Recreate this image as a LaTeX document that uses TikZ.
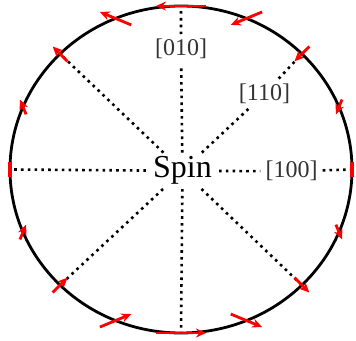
\documentclass[tikz,border=0pt]{standalone}
\usepackage{fontspec}
\setmainfont{Liberation Serif}
\usetikzlibrary{arrows.meta}
\begin{document}
\begin{tikzpicture}[x=1pt,y=1pt,
  dotline/.style={line width=2.6pt, dash pattern=on 2.6pt off 4.2pt},
  lab/.style={font=\fontsize{24}{24}\selectfont, text=black!80, inner sep=5pt, anchor=base},
  spinlab/.style={font=\fontsize{32}{32}\selectfont, text=black, inner xsep=7pt, inner ysep=4pt, anchor=base},
  spinarrow/.style={red, line width=2.8pt, -{Stealth[length=10pt,width=9pt]}},
  spinbar/.style={red, line width=3.4pt}]
\useasboundingbox (0,0) rectangle (356,340);
\coordinate (c) at (181,170.5);
\foreach \a in {0,45,...,315}
  \coordinate (e\a) at ({181+171*cos(\a)},{170.5+163.5*sin(\a)});
% labels
\node[spinlab] (spin) at (182.5,162) {Spin};
\node[lab] (l100) at (291.5,162) {[100]};
\node[lab] (l110) at (264.5,239.5) {[110]};
\node[lab] (l010) at (181,284) {[010]};
% dotted axes
\draw[dotline] (spin) -- (l100) (l100) -- (e0);
\draw[dotline] (spin) -- (l110) (l110) -- (e45);
\draw[dotline] (spin) -- (l010) (l010) -- (e90);
\draw[dotline] (spin) -- (e135);
\draw[dotline] (spin) -- (e180);
\draw[dotline] (spin) -- (e225);
\draw[dotline] (spin) -- (e270);
\draw[dotline] (spin) -- (e315);
% circle
\draw[line width=2.8pt] (c) ellipse [x radius=171, y radius=163.5];
% spins
\foreach \t/\L in {22.5/16, 45/21, 67.5/34, 90/50, 112.5/34, 135/21, 157.5/16,
                   202.5/16, 225/21, 247.5/34, 270/50, 292.5/34, 315/21, 337.5/16}
{
  \pgfmathsetmacro\ph{270-\t}
  \coordinate (p) at ({181+171*cos(\t)},{170.5+163.5*sin(\t)});
  \draw[spinarrow] (p) ++({\ph+180}:{\L/2}) -- ++(\ph:\L);
}
\draw[spinbar] (e0) ++(0,-7.5) -- ++(0,15);
\draw[spinbar] (e180) ++(0,-7.5) -- ++(0,15);
\end{tikzpicture}
\end{document}
